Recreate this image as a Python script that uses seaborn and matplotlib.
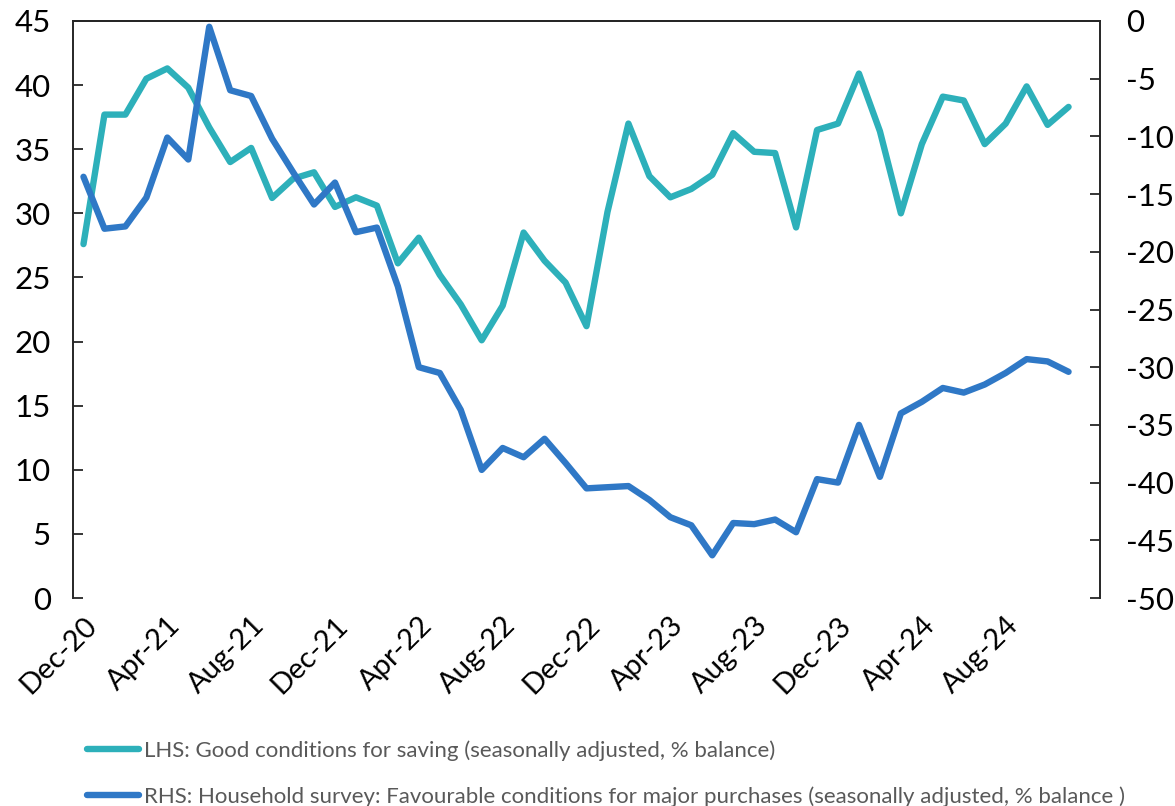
import numpy as np
import pandas as pd
import matplotlib
matplotlib.use("Agg")
import matplotlib.pyplot as plt
import seaborn as sns

# ---- data ----
months = pd.date_range("2020-12-01", periods=48, freq="MS")
saving_lhs = [27.6, 37.7, 37.7, 40.5, 41.3, 39.8, 36.7, 34.0, 35.1, 31.2,
              32.7, 33.2, 30.5, 31.25, 30.6, 26.1, 28.1, 25.2, 22.9, 20.1,
              22.8, 28.5, 26.3, 24.6, 21.2, 30.1, 37.0, 32.9, 31.25, 31.9,
              33.0, 36.25, 34.8, 34.7, 28.9, 36.5, 37.0, 40.9, 36.4, 30.0,
              35.4, 39.1, 38.8, 35.4, 37.0, 39.9, 36.9, 38.3]
purchases_rhs = [-13.5, -18.0, -17.8, -15.3, -10.1, -12.0, -0.5, -6.0, -6.5, -10.2,
                 -13.1, -15.9, -14.0, -18.3, -17.9, -23.0, -30.0, -30.5, -33.7, -38.9,
                 -37.0, -37.8, -36.2, -38.3, -40.5, -40.4, -40.3, -41.5, -43.0, -43.7,
                 -46.3, -43.5, -43.6, -43.2, -44.3, -39.7, -40.0, -35.0, -39.5, -34.0,
                 -33.0, -31.8, -32.2, -31.5, -30.5, -29.3, -29.5, -30.4]
label_lhs = "LHS: Good conditions for saving (seasonally adjusted, % balance)"
label_rhs = "RHS: Household survey: Favourable conditions for major purchases (seasonally adjusted, % balance )"
left_ticks = list(range(0, 50, 5))
right_ticks = list(range(-50, 5, 5))

teal = "#2DB0BA"
blue = "#2F78C6"

sns.set_theme(style="white")
plt.rcParams["font.family"] = ["Lato", "DejaVu Sans"]
plt.rcParams["axes.unicode_minus"] = False

df = pd.DataFrame({"idx": np.arange(len(months)), "lhs": saving_lhs, "rhs": purchases_rhs})

fig = plt.figure(figsize=(11.75, 8.06), dpi=100)
W, H = 1175, 806
ax = fig.add_axes([73 / W, 1 - 598 / H, (1100 - 73) / W, (598 - 21) / H])
ax2 = ax.twinx()

sns.lineplot(data=df, x="idx", y="lhs", ax=ax, color=teal, linewidth=4.6, label=label_lhs, legend=False)
sns.lineplot(data=df, x="idx", y="rhs", ax=ax2, color=blue, linewidth=4.6, label=label_rhs, legend=False)

ax.set_xlim(-0.5, 48.5)
ax.set_ylim(0, 45)
ax2.set_ylim(-50, 0)
ax.set_yticks(left_ticks)
ax2.set_yticks(right_ticks)
ax.set_xlabel("")
ax.set_ylabel("")
ax2.set_ylabel("")

xt = list(range(0, 48, 4))
ax.set_xticks(xt)
ax.set_xticklabels([months[i].strftime("%b-%y") for i in xt], rotation=45,
                   ha="right", va="top", rotation_mode="anchor", fontsize=21)

spc = "#262626"
for a in (ax, ax2):
    a.spines["bottom"].set_visible(False)
    for s in ("top", "left", "right"):
        a.spines[s].set_color(spc)
        a.spines[s].set_linewidth(1.4)
    a.grid(False)
ax.spines["right"].set_visible(False)
ax2.spines["left"].set_visible(False)

ax.tick_params(axis="y", direction="in", length=7, width=1.3, color=spc, labelsize=22.5, pad=16, labelcolor="black")
ax2.tick_params(axis="y", direction="in", length=7, width=1.3, color=spc, labelsize=22.5, pad=19, labelcolor="black")
ax.tick_params(axis="x", length=0, pad=10, labelcolor="black")

h1, l1 = ax.get_legend_handles_labels()
h2, l2 = ax2.get_legend_handles_labels()
fig.legend(h1 + h2, l1 + l2, loc="upper left", bbox_to_anchor=(87 / W, 1 - 740 / H),
           frameon=False, fontsize=16, handlelength=2.35, handletextpad=0.22,
           labelspacing=1.15, labelcolor="#595959", borderaxespad=0, borderpad=0)

fig.savefig("out.png", dpi=100)
